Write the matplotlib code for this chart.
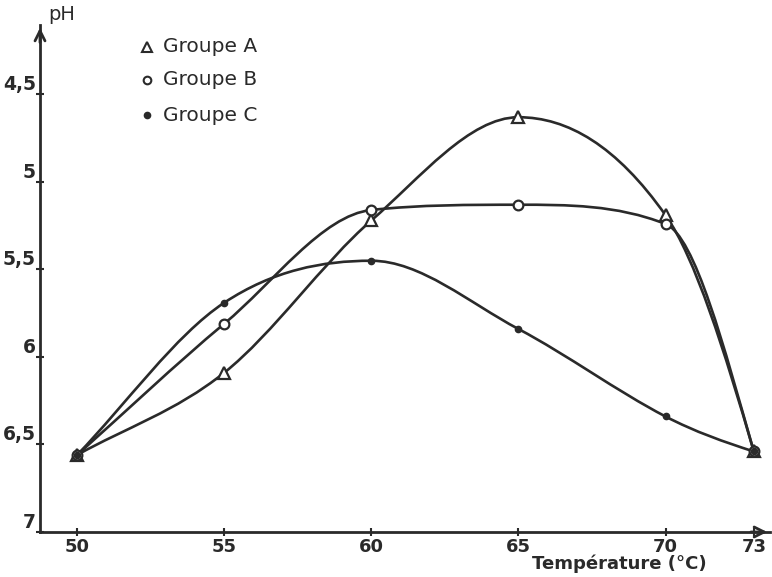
import numpy as np
import matplotlib
matplotlib.use('Agg')
import matplotlib.pyplot as plt
from matplotlib.path import Path
from matplotlib.patches import PathPatch

# temperature (°C) and pH readings for each group
temp = [50, 55, 60, 65, 70, 73]
ph_a = [6.56, 6.09, 5.22, 4.63, 5.19, 6.54]
ph_b = [6.56, 5.81, 5.16, 5.13, 5.24, 6.54]
ph_c = [6.56, 5.69, 5.45, 5.84, 6.34, 6.54]

x_ticks = [50, 55, 60, 65, 70, 73]
y_ticks = [4.5, 5, 5.5, 6, 6.5, 7]
y_labels = ['4,5', '5', '5,5', '6', '6,5', '7']

ink = '#2a2a2a'


def curve_slopes(x, y):
    # central differences, flattened at turning points and clamped
    h = np.diff(x)
    d = np.diff(y) / h
    m = np.zeros(len(x))
    for k in range(1, len(x) - 1):
        if d[k - 1] * d[k] <= 0:
            continue
        c = (y[k + 1] - y[k - 1]) / (x[k + 1] - x[k - 1])
        lim = 3 * min(abs(d[k - 1]), abs(d[k]))
        m[k] = np.sign(c) * min(abs(c), lim)
    m[0] = d[0]
    m[-1] = ((2 * h[-1] + h[-2]) * d[-1] - h[-1] * d[-2]) / (h[-1] + h[-2])
    if np.sign(m[-1]) != np.sign(d[-1]):
        m[-1] = 0.0
    return m


def smooth_path(xs, ys):
    # Hermite pieces handed to matplotlib as cubic Beziers
    x = np.asarray(xs, float)
    y = np.asarray(ys, float)
    m = curve_slopes(x, y)
    verts = [(x[0], y[0])]
    codes = [Path.MOVETO]
    for i in range(len(x) - 1):
        h = x[i + 1] - x[i]
        verts += [(x[i] + h / 3, y[i] + m[i] * h / 3),
                  (x[i + 1] - h / 3, y[i + 1] - m[i + 1] * h / 3),
                  (x[i + 1], y[i + 1])]
        codes += [Path.CURVE4] * 3
    return Path(verts, codes)


fig = plt.figure(figsize=(7.72, 5.77), dpi=100)
ax = fig.add_axes([40 / 772, 1 - 532 / 577, 730 / 772, 507 / 577])

for ys in (ph_a, ph_b, ph_c):
    ax.add_patch(PathPatch(smooth_path(temp, ys), facecolor='none',
                           edgecolor=ink, lw=1.9, zorder=2))

ax.plot(temp, ph_a, ls='none', marker='^', ms=8, mfc='white', mec=ink, mew=1.6, zorder=3)
ax.plot(temp, ph_b, ls='none', marker='o', ms=7, mfc='white', mec=ink, mew=1.6, zorder=3)
ax.plot(temp, ph_c, ls='none', marker='o', ms=4.5, mfc=ink, mec=ink, zorder=3)

ax.set_xlim(48.74, 73.55)
ax.set_ylim(7, 4.103)

ax.spines['top'].set_visible(False)
ax.spines['right'].set_visible(False)
for s in ('left', 'bottom'):
    ax.spines[s].set_linewidth(2)
    ax.spines[s].set_color(ink)

ax.set_xticks(x_ticks)
ax.set_xticklabels([str(t) for t in x_ticks])
ax.set_yticks(y_ticks)
ax.set_yticklabels(y_labels)
ax.tick_params(axis='both', direction='inout', length=6, width=1.5, color=ink,
               labelsize=13.5, labelcolor=ink)
ax.tick_params(axis='y', pad=0)
ax.tick_params(axis='x', pad=1, labelsize=13)
for lbl in ax.get_yticklabels():
    lbl.set_verticalalignment('bottom')
    lbl.set_fontweight('bold')
for lbl in ax.get_xticklabels():
    lbl.set_fontweight('bold')

# arrow heads on the axes
ax.annotate('', xy=(1.0, 0), xytext=(0.97, 0), xycoords='axes fraction',
            arrowprops=dict(arrowstyle='->', lw=2, color=ink, mutation_scale=18),
            annotation_clip=False)
ax.annotate('', xy=(0, 1.0), xytext=(0, 0.96), xycoords='axes fraction',
            arrowprops=dict(arrowstyle='->', lw=2, color=ink, mutation_scale=18),
            annotation_clip=False)

ax.text(0.03, 1.02, 'pH', transform=ax.transAxes, fontsize=14, color=ink,
        ha='center', va='center')
ax.text(0.794, -0.073, 'Température (°C)', transform=ax.transAxes, fontsize=13,
        fontweight='bold', color=ink, ha='center', va='baseline')

# legend drawn by hand
legend_rows = [('Groupe A', '^', 7, 'white'), ('Groupe B', 'o', 5.5, 'white'),
               ('Groupe C', 'o', 4, ink)]
row_y = [0.957, 0.892, 0.822]
for (name, mk, ms, fc), yy in zip(legend_rows, row_y):
    ax.plot([0.147], [yy], ls='none', marker=mk, ms=ms, mfc=fc, mec=ink, mew=1.5,
            transform=ax.transAxes, clip_on=False)
    ax.text(0.168, yy, name, transform=ax.transAxes, fontsize=14.5, color=ink,
            ha='left', va='center')

fig.savefig('out.png', dpi=100)
